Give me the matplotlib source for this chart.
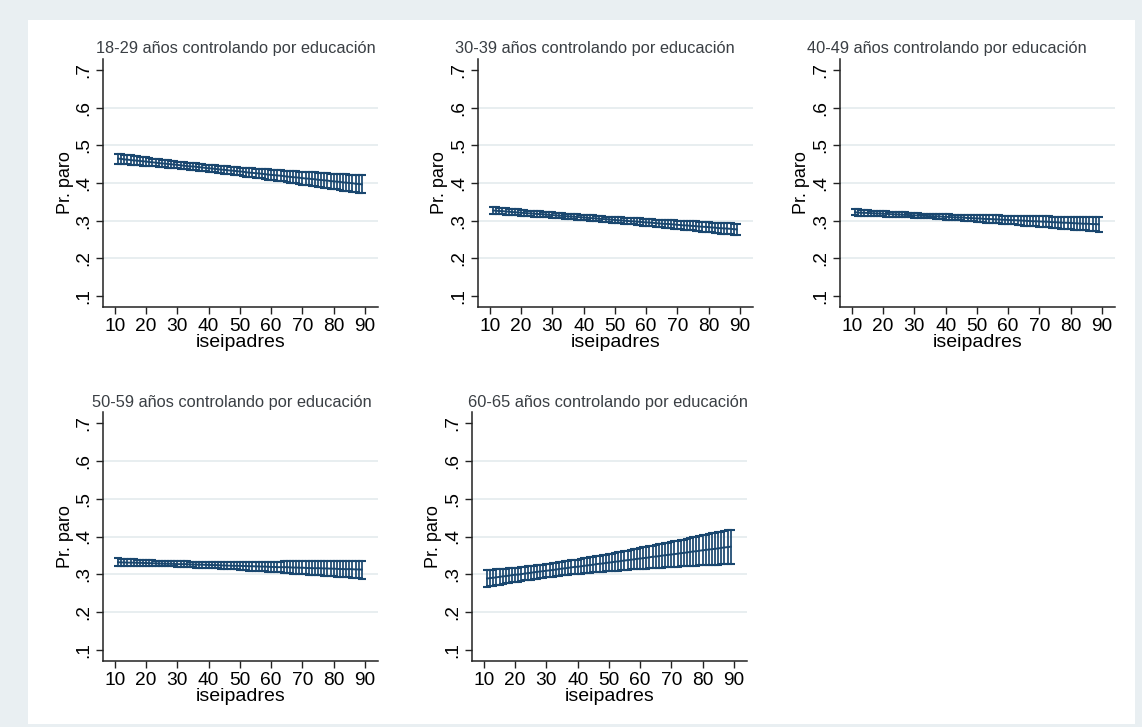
import matplotlib.pyplot as plt
from matplotlib.patches import Rectangle
import numpy as np

plt.rcParams['font.family'] = ['Liberation Sans', 'DejaVu Sans']

W, H = 1142, 727
NAVY = "#1a476f"

iseipadres = list(range(11, 90))

titles = [
    "18-29 años controlando por educación",
    "30-39 años controlando por educación",
    "40-49 años controlando por educación",
    "50-59 años controlando por educación",
    "60-65 años controlando por educación",
]

# confidence limits, one value per bar (iseipadres = 11..89)
lo_18_29 = [.451, .451, .450, .450, .449, .448, .448, .447, .446, .446, .445, .445, .444, .443, .442, .442,
            .441, .440, .440, .439, .438, .437, .436, .435, .435, .434, .433, .432, .431, .430, .429, .428,
            .427, .426, .425, .424, .423, .422, .421, .420, .419, .417, .416, .415, .414, .413, .412, .411,
            .409, .408, .407, .406, .405, .404, .402, .401, .400, .399, .398, .396, .395, .394, .393, .392,
            .390, .389, .388, .387, .385, .384, .383, .382, .380, .379, .378, .377, .375, .374, .373]
hi_18_29 = [.478, .477, .475, .474, .473, .472, .471, .470, .469, .468, .466, .465, .464, .463, .462, .461,
            .460, .459, .458, .457, .456, .455, .454, .453, .453, .452, .451, .450, .449, .448, .448, .447,
            .446, .445, .445, .444, .443, .443, .442, .441, .441, .440, .439, .439, .438, .438, .437, .436,
            .436, .435, .435, .434, .434, .433, .432, .432, .431, .431, .430, .430, .429, .429, .428, .428,
            .427, .427, .426, .426, .425, .425, .424, .424, .423, .423, .422, .422, .421, .421, .420]

lo_30_39 = [.318, .318, .317, .317, .316, .316, .315, .314, .314, .313, .313, .312, .312, .311, .311, .310,
            .310, .309, .309, .308, .307, .307, .306, .305, .305, .304, .304, .303, .302, .302, .301, .300,
            .299, .299, .298, .297, .297, .296, .295, .294, .293, .293, .292, .291, .290, .290, .289, .288,
            .287, .286, .286, .285, .284, .283, .282, .281, .281, .280, .279, .278, .277, .276, .276, .275,
            .274, .273, .272, .271, .271, .270, .269, .268, .267, .266, .265, .265, .264, .263, .262]
hi_30_39 = [.336, .335, .334, .334, .333, .332, .331, .331, .330, .329, .328, .327, .327, .326, .325, .325,
            .324, .323, .322, .322, .321, .320, .320, .319, .318, .318, .317, .317, .316, .315, .315, .314,
            .314, .313, .312, .312, .311, .311, .310, .310, .309, .309, .308, .308, .307, .307, .306, .306,
            .305, .305, .304, .304, .303, .303, .302, .302, .302, .301, .301, .300, .300, .299, .299, .298,
            .298, .298, .297, .297, .296, .296, .295, .295, .294, .294, .294, .293, .293, .292, .292]

lo_40_49 = [.314, .313, .313, .313, .313, .313, .312, .312, .312, .312, .311, .311, .311, .310, .310, .310,
            .309, .309, .309, .308, .308, .307, .307, .306, .306, .306, .305, .305, .304, .303, .303, .302,
            .302, .301, .301, .300, .299, .299, .298, .297, .297, .296, .295, .295, .294, .293, .293, .292,
            .292, .291, .290, .290, .289, .288, .287, .287, .286, .285, .285, .284, .283, .283, .282, .281,
            .281, .280, .279, .278, .278, .277, .276, .276, .275, .274, .274, .273, .272, .272, .271]
hi_40_49 = [.331, .330, .329, .329, .328, .327, .327, .326, .326, .325, .325, .324, .323, .323, .323, .322,
            .322, .321, .321, .320, .320, .319, .319, .319, .318, .318, .318, .318, .317, .317, .317, .316,
            .316, .316, .316, .316, .315, .315, .315, .315, .315, .314, .314, .314, .314, .314, .314, .313,
            .313, .313, .313, .313, .313, .313, .313, .312, .312, .312, .312, .312, .312, .312, .312, .311,
            .311, .311, .311, .311, .311, .311, .311, .310, .310, .310, .310, .310, .310, .310, .310]

lo_50_59 = [.322, .322, .322, .322, .322, .322, .322, .322, .322, .322, .322, .322, .322, .321, .321, .321,
            .321, .321, .321, .320, .320, .320, .320, .319, .319, .318, .318, .318, .317, .317, .316, .316,
            .316, .315, .315, .314, .314, .313, .313, .312, .311, .311, .310, .310, .309, .309, .308, .308,
            .307, .306, .306, .305, .305, .304, .304, .303, .302, .302, .301, .301, .300, .299, .299, .298,
            .298, .297, .296, .296, .295, .295, .294, .293, .293, .292, .292, .291, .290, .290, .289]
hi_50_59 = [.342, .341, .341, .340, .340, .340, .339, .339, .338, .338, .337, .337, .336, .336, .336, .335,
            .335, .335, .334, .334, .334, .334, .334, .333, .333, .333, .333, .333, .333, .333, .333, .333,
            .333, .332, .332, .332, .332, .332, .332, .333, .333, .333, .333, .333, .333, .333, .333, .333,
            .333, .333, .333, .333, .333, .334, .334, .334, .334, .334, .334, .334, .334, .334, .334, .334,
            .335, .335, .335, .335, .335, .335, .335, .335, .335, .335, .336, .336, .336, .336, .336]

lo_60_65 = [.267, .268, .270, .271, .273, .274, .276, .277, .279, .280, .281, .282, .284, .285, .286, .288,
            .289, .290, .291, .292, .293, .294, .295, .296, .297, .298, .299, .300, .301, .301, .302, .303,
            .304, .304, .305, .306, .307, .307, .308, .309, .309, .310, .310, .311, .312, .312, .313, .313,
            .314, .314, .315, .315, .316, .317, .317, .317, .318, .319, .319, .319, .320, .320, .321, .321,
            .322, .322, .323, .323, .324, .324, .325, .325, .325, .326, .326, .327, .327, .328, .328]
hi_60_65 = [.311, .312, .312, .313, .314, .315, .315, .316, .317, .318, .318, .319, .320, .321, .322, .323,
            .324, .325, .326, .327, .328, .329, .330, .332, .333, .334, .335, .337, .338, .339, .340, .342,
            .343, .345, .346, .348, .349, .350, .352, .353, .355, .357, .358, .360, .361, .363, .364, .366,
            .368, .369, .371, .372, .374, .376, .377, .379, .381, .382, .384, .386, .387, .389, .391, .392,
            .394, .396, .398, .399, .401, .403, .404, .406, .408, .409, .411, .413, .415, .416, .418]

lows = [lo_18_29, lo_30_39, lo_40_49, lo_50_59, lo_60_65]
highs = [hi_18_29, hi_30_39, hi_40_49, hi_50_59, hi_60_65]

yticks = [.1, .2, .3, .4, .5, .6, .7]
ytick_labels = [".1", ".2", ".3", ".4", ".5", ".6", ".7"]
xticks = [10, 20, 30, 40, 50, 60, 70, 80, 90]

# panel boxes in pixels: left, right, top, bottom
boxes = [(103, 378, 59, 307), (478, 753, 59, 307), (840, 1115, 59, 307),
         (103, 378, 412, 661), (472, 747, 412, 661)]
title_pos = [(96, 49), (455, 49), (807, 48), (92, 402), (468, 402)]

fig = plt.figure(figsize=(W / 100, H / 100), dpi=100)
fig.patch.set_facecolor("#e9eff2")
fig.patches.append(Rectangle((28 / W, 1 - 724 / H), (1135 - 28) / W, (724 - 20) / H,
                             transform=fig.transFigure, facecolor="white", edgecolor="none", zorder=-10))

for i in range(5):
    l, r, t, b = boxes[i]
    ax = fig.add_axes([l / W, 1 - b / H, (r - l) / W, (b - t) / H], zorder=1)
    ax.set_facecolor("none")
    lo = np.array(lows[i])
    hi = np.array(highs[i])
    mid = (lo + hi) / 2

    for g in yticks[1:-1]:
        ax.axhline(g, color="#e4ebee", lw=1.2, zorder=1)

    ax.errorbar(iseipadres, mid, yerr=[mid - lo, hi - mid], fmt="none", ecolor=NAVY,
                elinewidth=1.25, capsize=3.2, capthick=1.5, zorder=3)
    ax.plot(iseipadres, mid, color=NAVY, lw=1.4, zorder=4)

    ax.set_xlim(6.2, 94.2)
    ax.set_ylim(0.071, 0.729)
    ax.set_xticks(xticks)
    ax.set_yticks(yticks)
    ax.set_yticklabels(ytick_labels, rotation=90, va="center")
    ax.tick_params(axis="both", labelsize=13.8, length=5, width=1, color="#222222", pad=3)
    for s in ["top", "right"]:
        ax.spines[s].set_visible(False)
    for s in ["left", "bottom"]:
        ax.spines[s].set_color("#222222")
        ax.spines[s].set_linewidth(1.1)
    ax.set_xlabel("iseipadres", fontsize=14, labelpad=-1)
    ax.set_ylabel("Pr. paro", fontsize=13, labelpad=1)

    tx, ty = title_pos[i]
    fig.text(tx / W, 1 - ty / H, titles[i], fontsize=11.8, color="#3a3f44", ha="left", va="center")

fig.savefig("out.png", dpi=100)
